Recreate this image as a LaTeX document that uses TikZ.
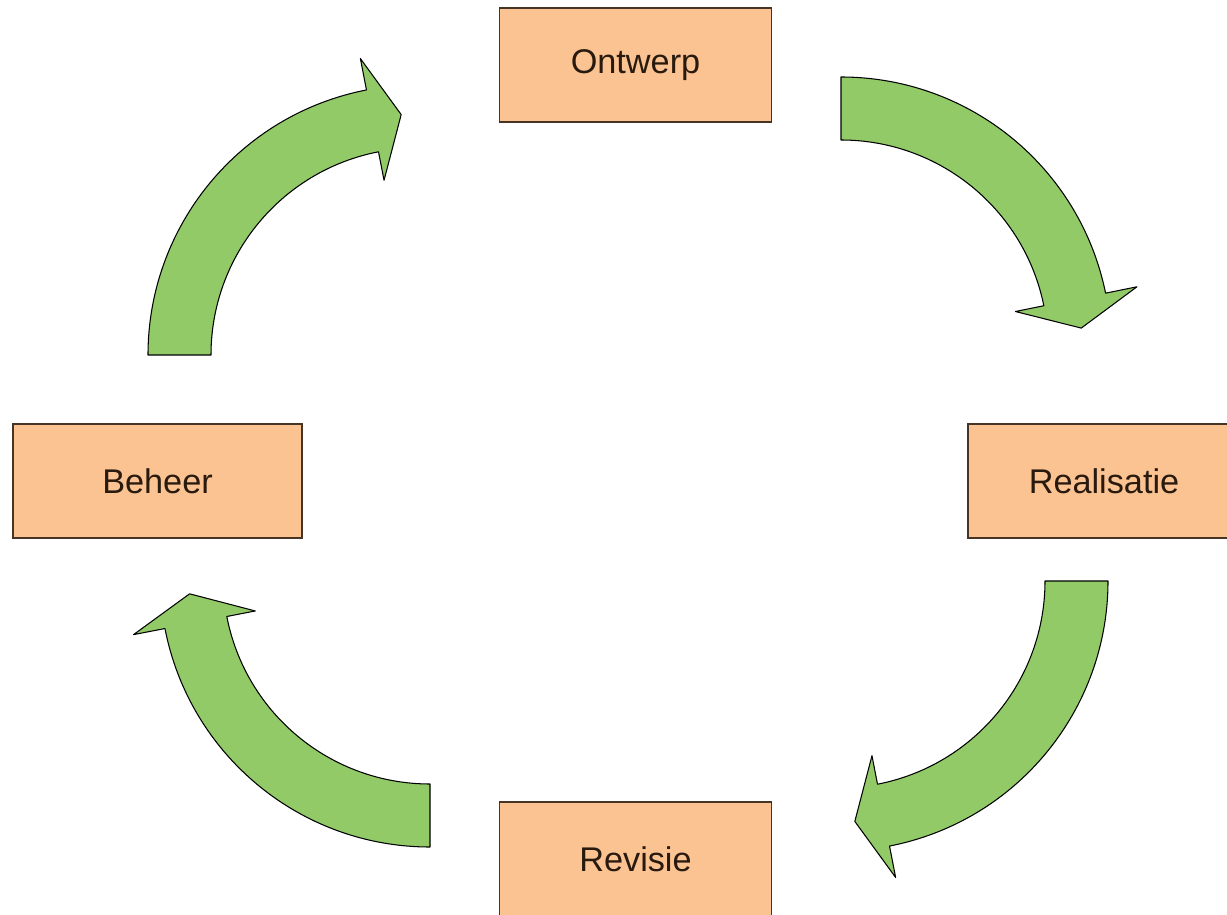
\documentclass[tikz,border=0pt]{standalone}
\usepackage{fontspec}
\setmainfont{Liberation Sans}
\usetikzlibrary{calc}

\definecolor{blokoranje}{RGB}{251,194,146}
\definecolor{blokrand}{RGB}{70,52,36}
\definecolor{pijlgroen}{RGB}{146,202,104}
\definecolor{tekstbruin}{RGB}{40,26,14}

\tikzset{
	fase/.style={draw=blokrand, line width=0.8pt, fill=blokoranje, text=tekstbruin,
		minimum width=5.44cm, minimum height=2.28cm, inner sep=0pt,
		font=\fontsize{19.5}{23}\selectfont},
	pijl/.style={draw=black, line width=0.6pt, fill=pijlgroen, line join=round}
}

% gebogen pijl: middelpunt, beginhoek, eindhoek (met de klok mee)
\newcommand{\bochtpijl}[3]{
	\draw [pijl] ($(#1)+(#2:270)$) arc [start angle=#2, end angle=#3, radius=270]
		-- ($(#1)+(#3:302)$) -- ($(#1)+({#3-7}:241)$) -- ($(#1)+(#3:178)$)
		-- ($(#1)+(#3:207)$) arc [start angle=#3, end angle=#2, radius=207] -- cycle;
}

\begin{document}
\begin{tikzpicture}[x=0.02cm,y=0.02cm]

		\useasboundingbox (0,0) rectangle (1227,-915);
		\clip (0,0) rectangle (1227,-915);

		\coordinate (LB) at (418,-355);
		\coordinate (RB) at (841,-347);
		\coordinate (RO) at (838,-581);
		\coordinate (LO) at (430,-577);

		\node [fase] (ontwerp) at (635.5,-65) {Ontwerp};
		\node [fase] (realisatie) at (1104,-481) {Realisatie};
		\node [fase] (revisie) at (635.5,-859) {Revisie};
		\node [fase, minimum width=5.78cm] (beheer) at (157.5,-481) {Beheer};

		\bochtpijl{LB}{180}{101}
		\bochtpijl{RB}{90}{11.5}
		\bochtpijl{RO}{0}{-79}
		\bochtpijl{LO}{270}{191}

\end{tikzpicture}
\end{document}
